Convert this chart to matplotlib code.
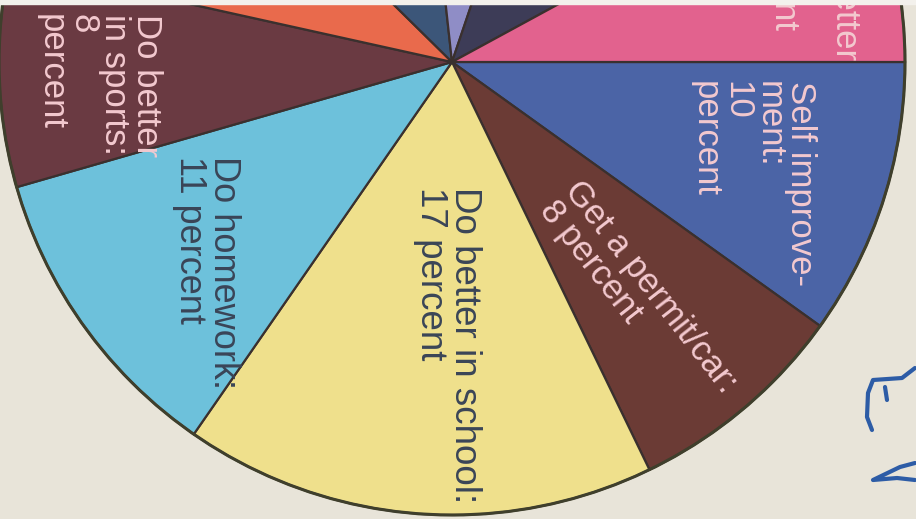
import matplotlib
matplotlib.use('Agg')
import matplotlib.pyplot as plt
from matplotlib.patches import Circle

# Sideways newspaper pie: what teens want to do better (percent)
categories = ['Self improvement', 'Get a permit/car', 'Do better in school',
              'Do homework', 'Do better in sports', 'Other 1', 'Other 2',
              'Other 3', 'Other 4', 'Do better at job']
shares = [10, 8, 17, 11, 8, 9, 11, 7, 12, 8]
colors = ['#4b64a6', '#6b3b35', '#efe08c', '#6dc1db', '#6a3a42',
          '#e96a4c', '#3c5679', '#8f8dc6', '#3d3c57', '#e2628e']
labels = ['Self improve-\nment:\n10\npercent',
          'Get a permit/car:\n8 percent',
          'Do better in school:\n17 percent',
          'Do homework:\n11 percent',
          'Do better\nin sports:\n8\npercent',
          'Do better\nat job\npercent']
label_wedge = [0, 1, 2, 3, 4, 9]

W, H = 916, 519
PAPER = '#e8e4d9'
LIGHT_TXT = '#f3c9cf'
DARK_TXT = '#3a4557'

fig = plt.figure(figsize=(W / 100, H / 100), dpi=100, facecolor=PAPER)
ax = fig.add_axes([0, 0, 1, 1])
ax.set_facecolor(PAPER)

cx, cy, r = 452, H - 62, 453
wedges, _ = ax.pie(shares, colors=colors, startangle=0, counterclock=False,
                   center=(cx, cy), radius=r, frame=True,
                   wedgeprops=dict(edgecolor='#3a302e', linewidth=1.6))
ax.add_patch(Circle((cx, cy), r, fill=False, edgecolor='#3f3f2c', linewidth=2.2))

# label placement in picture pixels (x, y from top), rotation, anchor, size
layout = [
    (817, 81, 270, 'right', 'top', LIGHT_TXT, 'default', 25),
    (638, 297, -52, 'center', 'center', LIGHT_TXT, 'anchor', 25),
    (482, 187, 270, 'right', 'top', DARK_TXT, 'default', 26.5),
    (241, 156, 270, 'right', 'top', DARK_TXT, 'default', 26),
    (163, 14, 270, 'right', 'top', LIGHT_TXT, 'default', 25),
    (862, 60, 270, 'right', 'bottom', LIGHT_TXT, 'default', 25),
]
for txt, wi, (x, y, rot, ha, va, col, mode, fs) in zip(labels, label_wedge, layout):
    t = ax.text(x, H - y, txt, rotation=rot, ha=ha, va=va, color=col,
                rotation_mode=mode, multialignment='left', linespacing=0.95,
                fontsize=fs, family=['Liberation Sans', 'DejaVu Sans'])
    t.set_clip_path(wedges[wi])

# white strip of the scan at the top edge
ax.axhspan(H - 4, H, color='#f3f1ec', zorder=5)

# blue pen scribbles at the right edge
ax.plot([915, 902, 873, 868, 867, 872], [H - v for v in [368, 378, 380, 393, 417, 430]],
        color='#2d5ca6', lw=3, solid_capstyle='round')
ax.plot([885, 887], [H - 387, H - 400], color='#2d5ca6', lw=3, solid_capstyle='round')
ax.plot([915, 900, 873, 897, 915], [H - v for v in [463, 467, 480, 478, 480]],
        color='#2d5ca6', lw=3, solid_capstyle='round')

ax.set_xlim(0, W)
ax.set_ylim(0, H)
ax.set_aspect('equal')
ax.axis('off')

fig.savefig('out.png', dpi=100, facecolor=PAPER)
